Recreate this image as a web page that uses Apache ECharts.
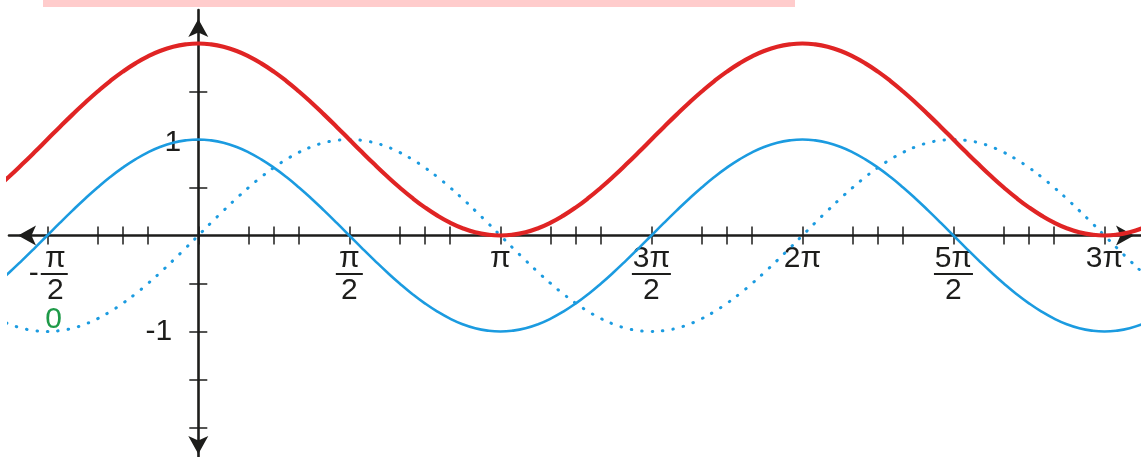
<!DOCTYPE html>
<html><head><meta charset="utf-8">
<script src="https://cdn.jsdelivr.net/npm/echarts@6/dist/echarts.min.js"></script>
<style>html,body{margin:0;padding:0;background:#fff}#c{width:1141px;height:457px}</style>
</head><body><div id="c"></div>
<script>
// x positions in units of pi/12 (every 7.5 degrees)
const stepK = [-8,-7.5,-7,-6.5,-6,-5.5,-5,-4.5,-4,-3.5,-3,-2.5,-2,-1.5,-1,-0.5,0,0.5,1,1.5,2,2.5,3,3.5,4,4.5,5,5.5,6,6.5,7,7.5,8,8.5,9,9.5,10,10.5,11,11.5,12,12.5,13,13.5,14,14.5,15,15.5,16,16.5,17,17.5,18,18.5,19,19.5,20,20.5,21,21.5,22,22.5,23,23.5,24,24.5,25,25.5,26,26.5,27,27.5,28,28.5,29,29.5,30,30.5,31,31.5,32,32.5,33,33.5,34,34.5,35,35.5,36,36.5,37,37.5,38];
// blue solid curve
const cosVals = [-0.5,-0.383,-0.259,-0.131,0,0.131,0.259,0.383,0.5,0.609,0.707,0.793,0.866,0.924,0.966,0.991,1,
  0.991,0.966,0.924,0.866,0.793,0.707,0.609,0.5,0.383,0.259,0.131,0,-0.131,-0.259,-0.383,-0.5,-0.609,-0.707,-0.793,-0.866,-0.924,-0.966,-0.991,-1,
  -0.991,-0.966,-0.924,-0.866,-0.793,-0.707,-0.609,-0.5,-0.383,-0.259,-0.131,0,0.131,0.259,0.383,0.5,0.609,0.707,0.793,0.866,0.924,0.966,0.991,1,
  0.991,0.966,0.924,0.866,0.793,0.707,0.609,0.5,0.383,0.259,0.131,0,-0.131,-0.259,-0.383,-0.5,-0.609,-0.707,-0.793,-0.866,-0.924,-0.966,-0.991,-1,
  -0.991,-0.966,-0.924,-0.866];
// blue dotted curve
const sinVals = [-0.866,-0.924,-0.966,-0.991,-1,-0.991,-0.966,-0.924,-0.866,-0.793,-0.707,-0.609,-0.5,-0.383,-0.259,-0.131,0,
  0.131,0.259,0.383,0.5,0.609,0.707,0.793,0.866,0.924,0.966,0.991,1,0.991,0.966,0.924,0.866,0.793,0.707,0.609,0.5,0.383,0.259,0.131,0,
  -0.131,-0.259,-0.383,-0.5,-0.609,-0.707,-0.793,-0.866,-0.924,-0.966,-0.991,-1,-0.991,-0.966,-0.924,-0.866,-0.793,-0.707,-0.609,-0.5,-0.383,-0.259,-0.131,0,
  0.131,0.259,0.383,0.5,0.609,0.707,0.793,0.866,0.924,0.966,0.991,1,0.991,0.966,0.924,0.866,0.793,0.707,0.609,0.5,0.383,0.259,0.131,0,
  -0.131,-0.259,-0.383,-0.5];
// red thick curve
const redVals = [0.5,0.617,0.741,0.869,1,1.131,1.259,1.383,1.5,1.609,1.707,1.793,1.866,1.924,1.966,1.991,2,
  1.991,1.966,1.924,1.866,1.793,1.707,1.609,1.5,1.383,1.259,1.131,1,0.869,0.741,0.617,0.5,0.391,0.293,0.207,0.134,0.076,0.034,0.009,0,
  0.009,0.034,0.076,0.134,0.207,0.293,0.391,0.5,0.617,0.741,0.869,1,1.131,1.259,1.383,1.5,1.609,1.707,1.793,1.866,1.924,1.966,1.991,2,
  1.991,1.966,1.924,1.866,1.793,1.707,1.609,1.5,1.383,1.259,1.131,1,0.869,0.741,0.617,0.5,0.391,0.293,0.207,0.134,0.076,0.034,0.009,0,
  0.009,0.034,0.076,0.134];

const xTickK = [-6,-4,-3,-2,0,2,3,4,6,8,9,10,12,14,15,16,18,20,21,22,24,26,27,28,30,32,33,34,36];
const xLabelK = [-6, 6, 12, 18, 24, 30, 36];
const xLabelNum = ['π','π','π','3π','2π','5π','3π'];
const xLabelDen = ['2','2','','2','','2',''];
const xLabelSign = ['-','','','','','',''];
const yTickVals = [-2,-1.5,-1,-0.5,0.5,1,1.5,2];
const yLabelVals = [1,-1];
const strayLabel = '0';

const INK = '#1d1d1b';
const RED = '#e02424';
const BLUE = '#1b9be0';
const GREEN = '#1e9a48';
const FONT = 'Liberation Sans, Arial, sans-serif';

function fmtX(v){
  const i = xLabelK.indexOf(Math.round(Number(v)));
  if (i < 0) return '';
  const num = xLabelNum[i], den = xLabelDen[i], sign = xLabelSign[i];
  if (!den) return '{n|' + num + '}';
  if (sign) return '{ns|' + num + '}\n{m|' + sign + '}{bs|}\n{ds|' + den + '}';
  return '{n|' + num + '}\n{' + (num.length > 1 ? 'bl' : 'bs') + '|}\n{d|' + den + '}';
}
const txt = {fontSize: 30, fontFamily: FONT, color: INK, align: 'center'};
const richX = {
  n: Object.assign({}, txt, {lineHeight: 28}),
  ns: Object.assign({}, txt, {lineHeight: 28, padding: [0,0,0,16]}),
  m: Object.assign({}, txt, {lineHeight: 3, width: 14}),
  bs: {width: 27, height: 2, lineHeight: 3, backgroundColor: INK, align: 'center'},
  bl: {width: 39, height: 2, lineHeight: 3, backgroundColor: INK, align: 'center'},
  d: Object.assign({}, txt, {lineHeight: 30}),
  ds: Object.assign({}, txt, {lineHeight: 30, padding: [0,0,0,16]})
};

// grid and axis ranges (data units)
const GRID = {left: 9, right: -2, top: 10, bottom: -6};
const XMIN = -7.52, XMAX = 37.53, YMIN = -2.37, YMAX = 2.349;
const W = 1141, H = 457;
const gridH = H - GRID.top - GRID.bottom, gridW = W - GRID.left - GRID.right;
// offsets that bring the axes to the zero lines of the other axis
const xAxisOffset = -(gridH * (0 - YMIN) / (YMAX - YMIN));
const yAxisOffset = -(gridW * (0 - XMIN) / (XMAX - XMIN));

const arrowLine = {show: true, onZero: false, symbol: ['arrow','arrow'], symbolSize: [15, 18], symbolOffset: [9, -9], lineStyle: {color: INK, width: 2.6}};
const hiddenLine = {show: true, onZero: false, symbol: 'none', lineStyle: {color: INK, width: 0, opacity: 0}};
const tickStyle = {color: INK, width: 1.5};

const chart = echarts.init(document.getElementById('c'), null, {renderer: 'canvas'});
chart.setOption({
  animation: false,
  backgroundColor: '#ffffff',
  grid: Object.assign({containLabel: false, outerBoundsMode: 'none'}, GRID),
  xAxis: [
    {type: 'value', position: 'bottom', offset: xAxisOffset, min: XMIN, max: XMAX, axisLine: arrowLine,
     axisTick: {show: true, inside: false, length: 9, customValues: xTickK, lineStyle: tickStyle},
     axisLabel: {show: true, customValues: xLabelK, margin: 9, formatter: fmtX, rich: richX},
     splitLine: {show: false}},
    {type: 'value', position: 'bottom', offset: xAxisOffset, min: XMIN, max: XMAX, axisLine: hiddenLine,
     axisTick: {show: true, inside: true, length: 9, customValues: xTickK, lineStyle: tickStyle},
     axisLabel: {show: false}, splitLine: {show: false}}
  ],
  yAxis: [
    {type: 'value', position: 'left', offset: yAxisOffset, min: YMIN, max: YMAX, axisLine: arrowLine,
     axisTick: {show: true, inside: false, length: 9, customValues: yTickVals, lineStyle: tickStyle},
     axisLabel: {show: true, customValues: yLabelVals, margin: 17,
       formatter: v => (Number(v) < 0 ? '{neg|-1}' : '{pos|1}'),
       rich: {pos: {fontSize: 30, fontFamily: FONT, color: INK, padding: [6,0,0,0]},
              neg: {fontSize: 30, fontFamily: FONT, color: INK, padding: [0,9,0,0]}}},
     splitLine: {show: false}},
    {type: 'value', position: 'left', offset: yAxisOffset, min: YMIN, max: YMAX, axisLine: hiddenLine,
     axisTick: {show: true, inside: true, length: 9, customValues: yTickVals, lineStyle: tickStyle},
     axisLabel: {show: false}, splitLine: {show: false}}
  ],
  graphic: [
    {type: 'rect', z: 100, shape: {x: 43, y: 0, width: 752, height: 7}, style: {fill: '#ffcccc'}},
    {type: 'text', z: 100, x: 53.5, y: 319.5, style: {text: strayLabel, fontSize: 30, fontFamily: FONT, fill: GREEN, align: 'center', verticalAlign: 'middle'}}
  ],
  series: [
    {type: 'line', name: 'cos', xAxisIndex: 0, yAxisIndex: 0, smooth: true, showSymbol: false, clip: true,
     data: stepK.map((k, i) => [k, cosVals[i]]), lineStyle: {color: BLUE, width: 2.6}},
    {type: 'line', name: 'sin', xAxisIndex: 0, yAxisIndex: 0, smooth: true, showSymbol: false, clip: true,
     data: stepK.map((k, i) => [k, sinVals[i]]), lineStyle: {color: BLUE, width: 3, type: [0.5, 10], cap: 'round'}},
    {type: 'line', name: '1+cos', xAxisIndex: 0, yAxisIndex: 0, smooth: true, showSymbol: false, clip: true,
     data: stepK.map((k, i) => [k, redVals[i]]), lineStyle: {color: RED, width: 4.2}}
  ]
});
</script>
</body></html>
